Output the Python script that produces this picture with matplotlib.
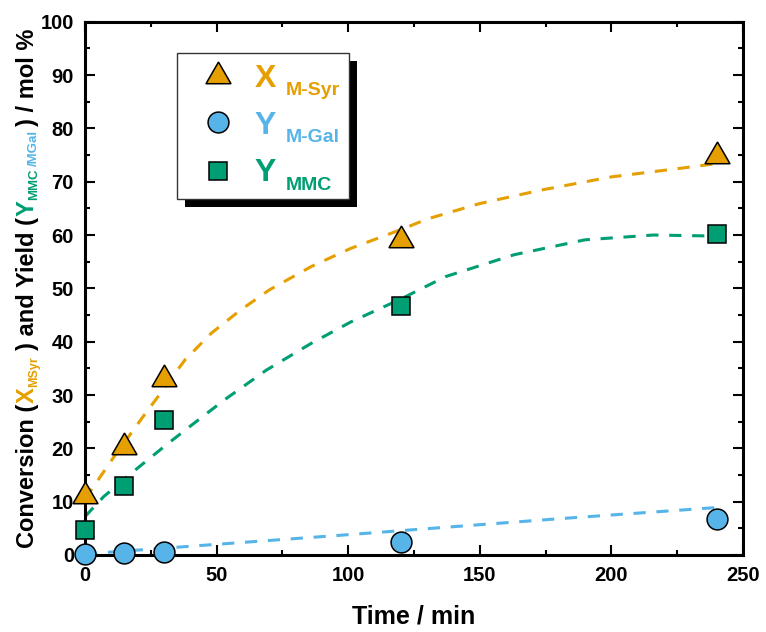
import numpy as np
import matplotlib.pyplot as plt
from matplotlib.patches import Rectangle

# Reaction time (min) and measured values (mol %)
time = [0, 15, 30, 120, 240]
x_msyr = [11.1, 20.2, 33.0, 59.0, 74.9]
y_mgal = [0.1, 0.3, 0.6, 2.5, 6.8]
y_mmc = [4.7, 13.0, 25.3, 46.7, 60.2]

# Trend curves (dashed)
t_fit_syr = [0, 11, 22, 30, 38, 48, 59, 70, 86, 101, 120, 130, 150, 173, 200, 226, 240]
fit_syr = [10.5, 18.4, 25.9, 31.2, 36.6, 41.6, 45.9, 49.7, 54.1, 57.5, 61.0, 63.0, 65.9, 68.4, 70.9, 72.5, 73.4]
t_fit_mmc = [0, 7, 19, 30, 38, 53, 69, 86, 101, 120, 137, 163, 190, 216, 240]
fit_mmc = [7.2, 10.9, 15.9, 20.3, 23.4, 29.1, 34.7, 39.7, 43.7, 48.0, 52.2, 56.3, 59.1, 60.0, 59.8]
t_fit_gal = [0, 50, 97, 129, 180, 240]
fit_gal = [0.2, 2.0, 3.7, 4.9, 6.8, 8.9]

orange = '#E69F00'
blue = '#56B4E9'
green = '#009E73'

plt.rcParams['font.family'] = ['Liberation Sans', 'DejaVu Sans']
plt.rcParams['font.weight'] = 'bold'

W, H = 766, 632
fig = plt.figure(figsize=(W / 100, H / 100), dpi=100)
ax = fig.add_axes([85 / W, 77 / H, 658 / W, 533.3 / H])

dash = dict(ls=(0, (4, 3.5)), lw=2.2, zorder=2)
ax.plot(t_fit_syr, fit_syr, color=orange, **dash)
ax.plot(t_fit_mmc, fit_mmc, color=green, **dash)
ax.plot(t_fit_gal, fit_gal, color=blue, **dash)

mk = dict(ls='none', mec='black', mew=1.1, zorder=3, clip_on=False)
ax.plot(time, x_msyr, marker=(3, 0, 0), ms=20.8, color=orange, **mk)
ax.plot(time, y_mgal, marker='o', ms=15, color=blue, **mk)
ax.plot(time, y_mmc, marker='s', ms=13.3, color=green, **mk)

ax.set_xlim(0, 250)
ax.set_ylim(0, 100)
ax.set_xticks(np.arange(0, 251, 50))
ax.set_xticks(np.arange(0, 251, 25), minor=True)
ax.set_yticks(np.arange(0, 101, 10))
ax.set_yticks(np.arange(0, 101, 5), minor=True)
ax.tick_params(which='both', direction='in', top=True, right=True, width=1.5)
ax.tick_params(which='major', length=7, labelsize=14.5, pad=8)
ax.tick_params(which='minor', length=3.5)
for s in ax.spines.values():
    s.set_linewidth(2.2)

ax.set_xlabel('Time / min', fontsize=18, fontweight='bold', labelpad=14)

# Legend box with a solid drop shadow
def ax_xy(px, py):
    return (px - 85) / 658, (555 - py) / 533.3

x0, y0 = ax_xy(177.3, 199.3)
x1, y1 = ax_xy(349.3, 53.3)
sx, sy = 7.5 / 658, 7.5 / 533.3
ax.add_patch(Rectangle((x0 + sx, y0 - sy), x1 - x0, y1 - y0, transform=ax.transAxes,
                       facecolor='black', edgecolor='none', zorder=5, clip_on=False))
ax.add_patch(Rectangle((x0, y0), x1 - x0, y1 - y0, transform=ax.transAxes,
                       facecolor='white', edgecolor='#333333', lw=1.0, zorder=6, clip_on=False))

entries = [
    ((3, 0, 0), 20.8, orange, 'X', 'M-Syr', 72.3, 86.7, 95),
    ('o', 15, blue, 'Y', 'M-Gal', 121.7, 134.3, 141.7),
    ('s', 13.3, green, 'Y', 'MMC', 171, 180.7, 190),
]
for marker, ms, color, main, sub, my, by, sby in entries:
    mx_, my_ = ax_xy(218.3, my + (3.6 if marker == (3, 0, 0) else 0))
    ax.plot([mx_], [my_], marker=marker, ms=ms, color=color, mec='black', mew=1.1,
            ls='none', transform=ax.transAxes, zorder=7, clip_on=False)
    tx, ty = ax_xy(254.5, by)
    ax.text(tx, ty, main, color=color, fontsize=23, fontweight='bold',
            ha='left', va='baseline', transform=ax.transAxes, zorder=7)
    tx, ty = ax_xy(286, sby)
    ax.text(tx, ty, sub, color=color, fontsize=14, fontweight='bold',
            ha='left', va='baseline', transform=ax.transAxes, zorder=7)

# Multi-coloured rotated y label, built piece by piece from the bottom up
pieces = [
    ('Conversion (', 'black', 17, 0, 1),
    ('X', orange, 17, 0, 0),
    ('MSyr', orange, 9, 3, 6),
    (') and Yield (', 'black', 17, 0, 1),
    ('Y', green, 17, 0, 0),
    ('MMC', green, 9.5, 3, 3),
    ('/MGal', blue, 9.5, 3, 4),
    (') / mol %', 'black', 17, 0, 0),
]
renderer = fig.canvas.get_renderer()
base_x = 34
ypos = H - 548
for txt, color, size, shift, gap in pieces:
    t = fig.text((base_x + shift) / W, ypos / H, txt, color=color, fontsize=size,
                 fontweight='bold', rotation=90,
                 rotation_mode='anchor', ha='left', va='baseline')
    ypos += t.get_window_extent(renderer).height + gap

fig.savefig('out.png', dpi=100)
